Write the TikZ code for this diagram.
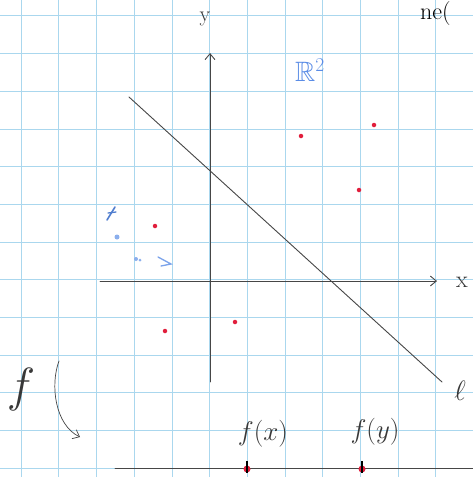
\RequirePackage{fix-cm}
\documentclass[tikz,border=0pt]{standalone}
\usepackage{amssymb}
\usetikzlibrary{arrows.meta}
\definecolor{gridblue}{RGB}{170,215,238}
\definecolor{pencil}{RGB}{70,70,70}
\definecolor{dotred}{RGB}{225,30,60}
\definecolor{inkblue}{RGB}{90,140,230}
\tikzset{
  pen/.style={draw=pencil, line width=0.9pt, line cap=round},
  lab/.style={text=pencil!80!black, inner sep=0pt},
  reddot/.style={circle, fill=dotred, inner sep=0pt, minimum size=4.5pt},
  bluemark/.style={circle, fill=inkblue!70, inner sep=0pt, minimum size=5pt},
  openarrow/.style={-{Straight Barb[length=6pt,width=10pt]}}
}
\begin{document}
\begin{tikzpicture}[x=1pt,y=-1pt]
\useasboundingbox (0,0) rectangle (473,477);
\fill[white] (0,0) rectangle (473,477);
\begin{scope}
\clip (0,0) rectangle (473,477);
% grid
\foreach \gx in {21,58.7,96.4,134.1,171.8,209.5,247.2,284.9,322.6,360.3,398,435.7}
  \draw[gridblue, line width=0.6pt] (\gx,0) -- (\gx,477);
\foreach \gy in {15.7,53.4,91.1,128.8,166.5,204.2,241.9,279.6,317.3,355,392.7,430.4,468.1}
  \draw[gridblue, line width=0.6pt] (0,\gy) -- (473,\gy);
\end{scope}
% top-right text
\node[text=black, font=\fontsize{24}{28}\selectfont, anchor=base west, inner sep=0pt] (topt) at (420,19) {ne(};
% axes
\coordinate (xs) at (100,281);
\coordinate (xe) at (437,281);
\coordinate (ys) at (210,382);
\coordinate (ye) at (210,53);
\draw[pen, openarrow] (xs) -- (xe);
\draw[pen, openarrow] (ys) -- (ye);
\node[lab, font=\fontsize{24}{28}\selectfont] (xl) at (462,282) {x};
\node[lab, font=\fontsize{22}{26}\selectfont] (yl) at (205,19) {y};
% line l
\coordinate (la) at (129,97);
\coordinate (lb) at (442,382);
\draw[pen] (la) -- (lb);
\node[lab, font=\fontsize{28}{32}\selectfont] (ll) at (460,391) {$\ell$};
% R^2
\node[text=inkblue, font=\fontsize{28}{32}\selectfont] (R2) at (310,70) {$\mathbb{R}^2$};
% red dots
\node[reddot] (p1) at (301,136) {};
\node[reddot] (p2) at (374,125) {};
\node[reddot] (p3) at (359,190) {};
\node[reddot] (p4) at (155,226) {};
\node[reddot] (p5) at (165,331) {};
\node[reddot] (p6) at (235,322) {};
% faint blue marks
\draw[inkblue!90!black, line width=1.6pt, line cap=round] (107,220) -- (115,207);
\draw[inkblue!90!black, line width=1.3pt, line cap=round] (108,213) -- (116,212);
\node[bluemark] (b1) at (117,237) {};
\node[bluemark, minimum size=4pt] (b2) at (136,259) {};
\node[bluemark, minimum size=3pt] (b3) at (140,260) {};
\draw[inkblue!80, line width=1.3pt, line cap=round] (158,257) -- (171,264) -- (161,266);
% map f
\node[lab, font=\fontsize{48}{52}\selectfont] (fl) at (21,389) {$f$};
\coordinate (fa) at (59,361);
\coordinate (fb) at (80,437);
\draw[pen, line width=0.7pt, openarrow] (fa) .. controls (50,385) and (55,425) .. (fb);
% bottom line
\coordinate (bl) at (115,468);
\coordinate (br) at (473,468);
\draw[pen] (bl) -- (br);
\node[reddot, minimum size=7pt] (fx) at (247,469) {};
\node[reddot, minimum size=7pt] (fy) at (362,469) {};
\draw[black, line width=1.1pt] (247,461) -- (fx.south);
\draw[black, line width=1.1pt] (362,461) -- (fy.south);
\node[lab, font=\fontsize{27}{31}\selectfont] (fxl) at (263,434) {$f(x)$};
\node[lab, font=\fontsize{27}{31}\selectfont] (fyl) at (375,432) {$f(y)$};
\end{tikzpicture}
\end{document}
